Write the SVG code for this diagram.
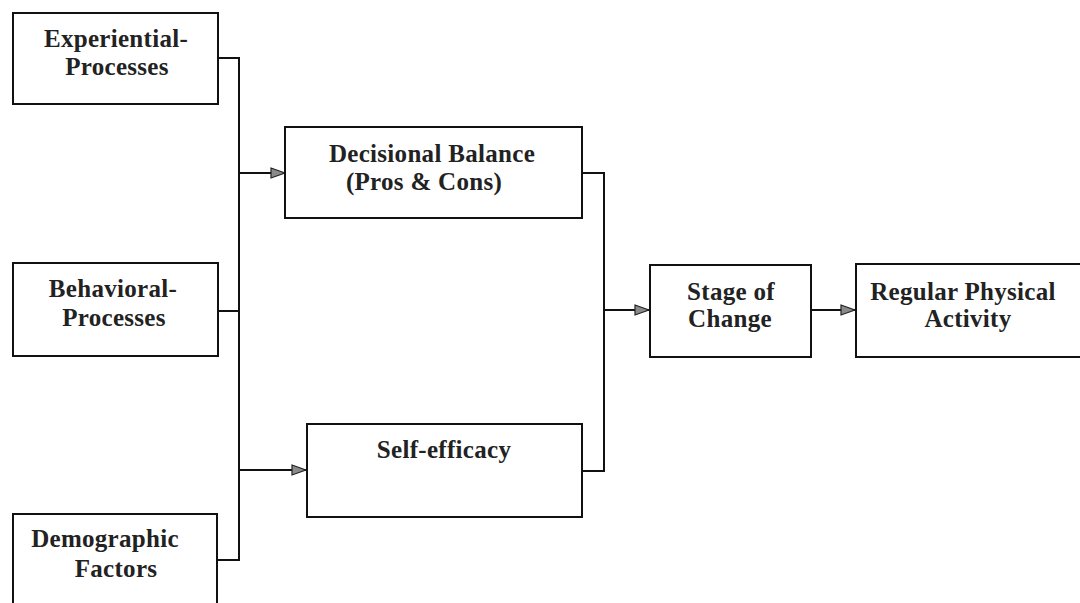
<svg xmlns="http://www.w3.org/2000/svg" width="1080" height="603" viewBox="0 0 1080 603">
<style>
.box{fill:#fff;stroke:#111;stroke-width:2}
.t{font-family:"Liberation Serif","Times New Roman",serif;font-weight:bold;font-size:25px;letter-spacing:0.3px;fill:#222;text-anchor:middle}
.c{fill:none;stroke:#111;stroke-width:2}
</style>
<defs>
<marker id="ah" viewBox="0 0 16 12" refX="15" refY="6" markerWidth="16" markerHeight="12" markerUnits="userSpaceOnUse" orient="auto">
<path d="M1,1 L15,6 L1,11 Z" fill="#8a8a8a" stroke="#222" stroke-width="1.2"/>
</marker>
</defs>
<rect width="1080" height="603" fill="#fff"/>
<g id="connectors">
<path class="c" d="M218,58 H239 V560 H217"/>
<path class="c" d="M218,311 H239"/>
<path class="c" d="M239,173 H285" marker-end="url(#ah)"/>
<path class="c" d="M239,470 H306" marker-end="url(#ah)"/>
<path class="c" d="M582,173 H604 V471 H582"/>
<path class="c" d="M604,310 H649" marker-end="url(#ah)"/>
<path class="c" d="M811,310 H855" marker-end="url(#ah)"/>
</g>
<g id="experiential">
<rect class="box" x="13" y="13" width="205" height="91"/>
<text class="t" x="116" y="47">Experiential-</text>
<text class="t" x="117" y="75">Processes</text>
</g>
<g id="behavioral">
<rect class="box" x="13" y="263" width="205" height="93"/>
<text class="t" x="113" y="297">Behavioral-</text>
<text class="t" x="114" y="326">Processes</text>
</g>
<g id="demographic">
<rect class="box" x="13" y="514" width="204" height="100"/>
<text class="t" x="105" y="547">Demographic</text>
<text class="t" x="116" y="577">Factors</text>
</g>
<g id="decisional">
<rect class="box" x="285" y="127" width="297" height="91"/>
<text class="t" x="432" y="162">Decisional Balance</text>
<text class="t" x="424" y="190">(Pros &amp; Cons)</text>
</g>
<g id="selfefficacy">
<rect class="box" x="307" y="424" width="275" height="93"/>
<text class="t" x="444" y="458">Self-efficacy</text>
</g>
<g id="stage">
<rect class="box" x="650" y="265" width="161" height="92"/>
<text class="t" x="731" y="300">Stage of</text>
<text class="t" x="730" y="327">Change</text>
</g>
<g id="regular">
<rect class="box" x="856" y="264" width="240" height="93"/>
<text class="t" x="963" y="300">Regular Physical</text>
<text class="t" x="968" y="327">Activity</text>
</g>
</svg>
